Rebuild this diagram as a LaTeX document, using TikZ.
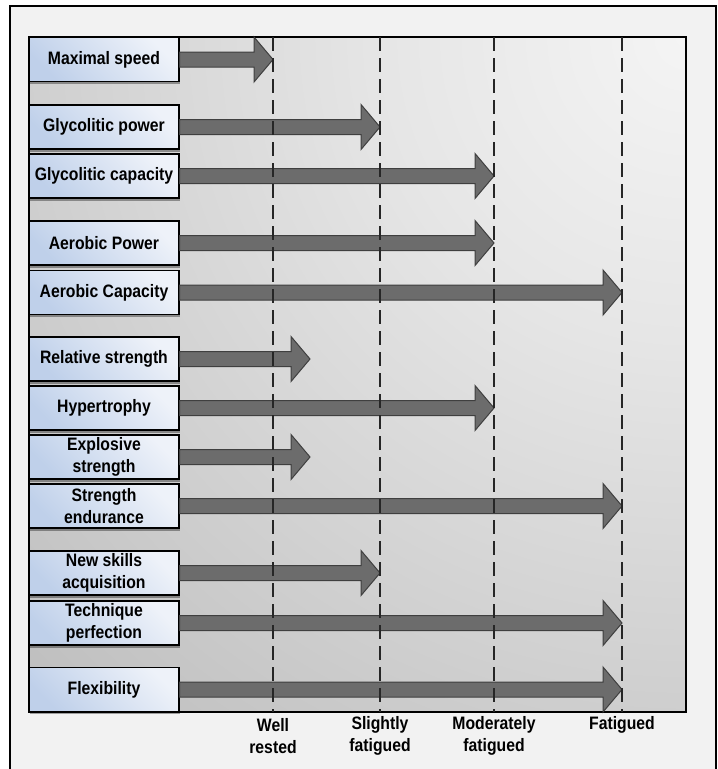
\documentclass[tikz,border=0pt]{standalone}
\usepackage{fontspec}
\newfontfamily\lblfont[FakeStretch=0.875]{Liberation Sans}
\usetikzlibrary{calc,shadows}
\definecolor{pA}{HTML}{F4F4F4}
\definecolor{pB}{HTML}{E6E6E6}
\definecolor{pC}{HTML}{D3D3D3}
\definecolor{pD}{HTML}{C0C0C0}
\definecolor{pE}{HTML}{ADADAD}
\definecolor{pF}{HTML}{9C9C9C}
\definecolor{frameBg}{HTML}{F2F2F2}
\definecolor{boxL}{HTML}{BFD0EA}
\definecolor{boxR}{HTML}{EEF2F9}
\definecolor{arrFill}{HTML}{6C6C6C}
\definecolor{arrLine}{HTML}{3F3F3F}
\definecolor{dashCol}{HTML}{262626}
\pgfdeclareradialshading{panelshade}{\pgfpoint{0bp}{0bp}}{color(0bp)=(pA); color(7.5bp)=(pB); color(15bp)=(pC); color(22.5bp)=(pD); color(30bp)=(pE); color(50bp)=(pF)}
\newcommand\blockarr[2]{\draw[blockarrow] let \p1=(#1.east), \p2=(#2) in (\x1,\y1+7.5pt) -- (\x2-19pt,\y1+7.5pt) -- (\x2-19pt,\y1+22.5pt) -- (\x2,\y1) -- (\x2-19pt,\y1-22.5pt) -- (\x2-19pt,\y1-7.5pt) -- (\x1,\y1-7.5pt) -- cycle;}
\begin{document}
\begin{tikzpicture}[x=1pt,y=-1pt,
  labelbox/.style={draw=black, line width=1.3pt, left color=boxL, right color=boxR, shading angle=135,
    minimum width=150pt, minimum height=44pt, inner sep=0pt, align=center,
    font=\lblfont\bfseries\fontsize{18}{22}\selectfont,
    drop shadow={shadow xshift=0.5pt, shadow yshift=-2.5pt, fill=black, opacity=0.35}},
  statelabel/.style={inner sep=0pt, align=center, font=\lblfont\bfseries\fontsize{18}{22}\selectfont},
  blockarrow/.style={fill=arrFill, draw=arrLine, line width=1pt, line join=miter},
  dashline/.style={draw=dashCol, line width=1.7pt, dash pattern=on 14pt off 7pt}]
\useasboundingbox (0,0) rectangle (718,769);
% outer frame
\draw[fill=frameBg, line width=1.2pt] (10,6) rectangle (716,780);
% panel
\begin{scope}
\clip (29,37) rectangle (686,712);
\fill[pF] (29,37) rectangle (686,712);
\shade[shading=panelshade] (686,37) circle (1000);
\end{scope}
\draw[line width=1.3pt] (29,37) rectangle (686,712);
% dashed line coordinates
\coordinate (d1t) at (273,37); \coordinate (d1b) at (273,712);
\coordinate (d2t) at (380,37); \coordinate (d2b) at (380,712);
\coordinate (d3t) at (494,37); \coordinate (d3b) at (494,712);
\coordinate (d4t) at (622,37); \coordinate (d4b) at (622,712);
% boxes
\node[labelbox] (b1) at (104,59.5) {Maximal speed};
\node[labelbox] (b2) at (104,127) {Glycolitic power};
\node[labelbox] (b3) at (104,176) {Glycolitic capacity};
\node[labelbox] (b4) at (104,243) {Aerobic Power};
\node[labelbox] (b5) at (104,292.5) {Aerobic Capacity};
\node[labelbox] (b6) at (104,359) {Relative strength};
\node[labelbox] (b7) at (104,408) {Hypertrophy};
\node[labelbox] (b8) at (104,457) {Explosive\\strength};
\node[labelbox] (b9) at (104,506) {Strength\\endurance};
\node[labelbox] (b10) at (104,573) {New skills\\acquisition};
\node[labelbox] (b11) at (104,623) {Technique\\perfection};
\node[labelbox] (b12) at (104,689.5) {Flexibility};
% arrow tips
\coordinate (t1) at (273,59.5);
\coordinate (t2) at (380,127);
\coordinate (t3) at (494,176);
\coordinate (t4) at (494,243);
\coordinate (t5) at (622,292.5);
\coordinate (t6) at (310,359);
\coordinate (t7) at (494,408);
\coordinate (t8) at (310,457);
\coordinate (t9) at (622,506);
\coordinate (t10) at (380,573);
\coordinate (t11) at (622,623);
\coordinate (t12) at (622,689.5);
\blockarr{b1}{t1}
\blockarr{b2}{t2}
\blockarr{b3}{t3}
\blockarr{b4}{t4}
\blockarr{b5}{t5}
\blockarr{b6}{t6}
\blockarr{b7}{t7}
\blockarr{b8}{t8}
\blockarr{b9}{t9}
\blockarr{b10}{t10}
\blockarr{b11}{t11}
\blockarr{b12}{t12}
% dashed lines
\draw[dashline] (d1t) -- (d1b);
\draw[dashline] (d2t) -- (d2b);
\draw[dashline] (d3t) -- (d3b);
\draw[dashline] (d4t) -- (d4b);
% state labels
\node[statelabel] (s1) at (273,736) {Well\\rested};
\node[statelabel] (s2) at (380,736) {Slightly\\fatigued};
\node[statelabel] (s3) at (494,736) {Moderately\\fatigued};
\node[statelabel] (s4) at (622,725) {Fatigued};
\end{tikzpicture}
\end{document}
